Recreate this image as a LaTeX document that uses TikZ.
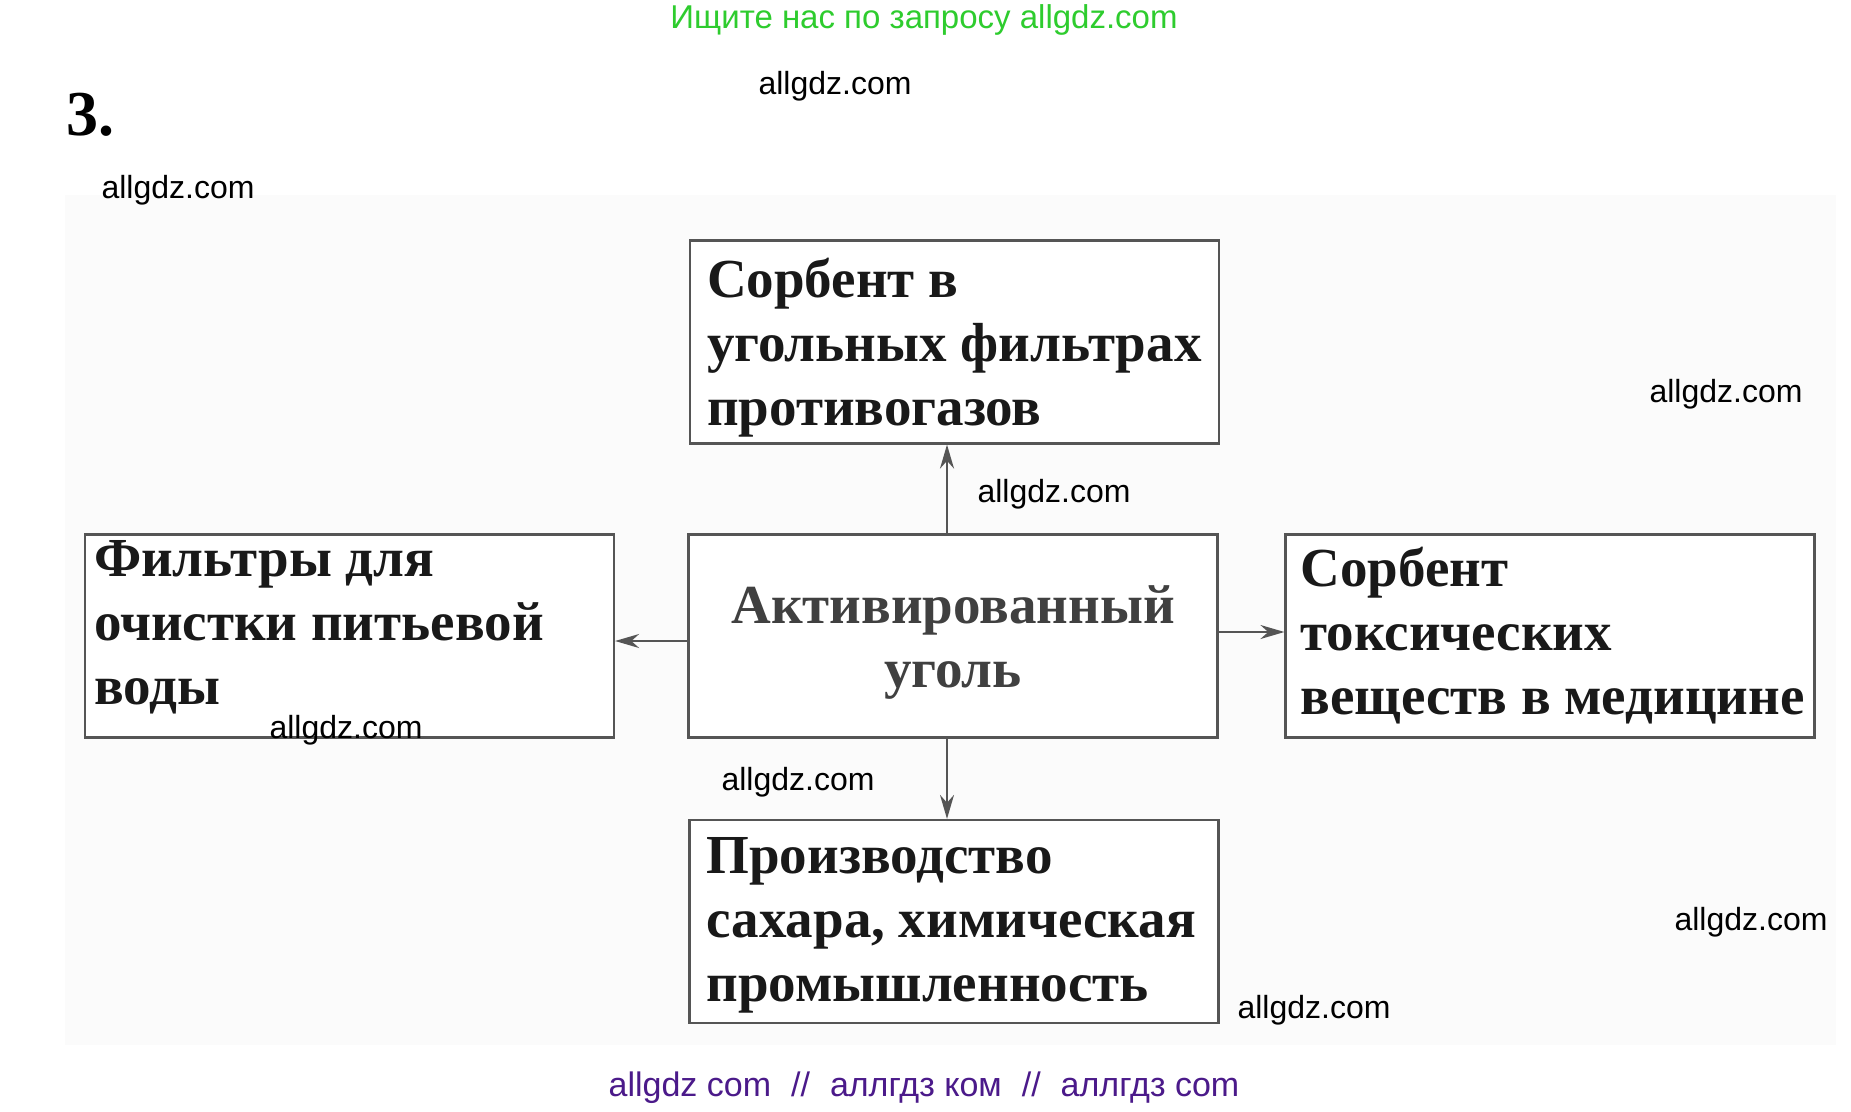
\documentclass[tikz,border=0pt]{standalone}
\usepackage{fontspec}
\setmainfont{Liberation Serif}
\newfontfamily\wmfont{Liberation Sans}
\usetikzlibrary{arrows.meta}
\definecolor{boxline}{HTML}{555555}
\definecolor{wmgreen}{HTML}{2ECC2E}
\definecolor{wmpurple}{HTML}{4B1A8A}
\definecolor{bgpage}{HTML}{FBFBFB}
\begin{document}
\begin{tikzpicture}[x=1pt,y=-1pt,
  boxnode/.style={draw=boxline, line width=2.2pt, fill=white, minimum width=529pt, minimum height=203pt,
    text width=495pt, inner xsep=17pt, inner ysep=0pt, align=flush left,
    font=\bfseries\fontsize{55}{64}\selectfont, text=black!90},
  centernode/.style={boxnode, align=flush center, text=black!75},
  conn/.style={draw=boxline, line width=2pt, -{Stealth[length=24pt,width=14pt]}},
  wm/.style={font=\wmfont\fontsize{32}{36}\selectfont, text=black, inner sep=0pt}
]
\useasboundingbox (0,0) rectangle (1851,1111);
\fill[white] (0,0) rectangle (1851,1111);
\fill[bgpage] (65,195) rectangle (1836,1045);

\node[boxnode] (top) at (954.5,342) {\rule{0pt}{50pt}Сорбент в\\\mbox{угольных фильтрах}\\противогазов};
\node[centernode] (center) at (953,636) {\rule{0pt}{50pt}Активированный\\уголь};
\node[boxnode, text width=511pt, inner xsep=9pt] (left) at (349.5,636) {Фильтры для\\\mbox{очистки питьевой}\\воды\vspace*{18pt}};
\node[boxnode, text width=499pt, inner xsep=15pt] (right) at (1550,636) {Сорбент\\токсических\\\mbox{веществ в медицине}};
\node[boxnode] (bottom) at (954,921.5) {\rule{0pt}{44pt}Производство\\\mbox{сахара, химическая}\\промышленность};

\draw[conn] (center.north -| 947,0) -- (top.south -| 947,0);
\draw[conn] (center.south -| 947,0) -- (bottom.north -| 947,0);
\draw[conn] (center.west |- 0,641) -- (left.east |- 0,641);
\draw[conn] (center.east |- 0,632) -- (right.west |- 0,632);

\node[font=\bfseries\fontsize{64}{70}\selectfont, anchor=west, inner sep=0pt] (num) at (66,115) {3.};

\node[wm, text=wmgreen, font=\wmfont\fontsize{33}{36}\selectfont] (wg) at (924,20) {Ищите нас по запросу allgdz.com};
\node[wm] (w1) at (835,86) {allgdz.com};
\node[wm] (w2) at (178,190) {allgdz.com};
\node[wm] (w3) at (1726,394) {allgdz.com};
\node[wm] (w4) at (1054,494) {allgdz.com};
\node[wm] (w5) at (346,730) {allgdz.com};
\node[wm] (w6) at (798,782) {allgdz.com};
\node[wm] (w7) at (1751,922) {allgdz.com};
\node[wm] (w8) at (1314,1010) {allgdz.com};
\node[wm, text=wmpurple, font=\wmfont\fontsize{34}{38}\selectfont] (wp) at (924,1088) {allgdz com\hspace{20pt}//\hspace{20pt}аллгдз ком\hspace{20pt}//\hspace{20pt}аллгдз com};
\end{tikzpicture}
\end{document}
